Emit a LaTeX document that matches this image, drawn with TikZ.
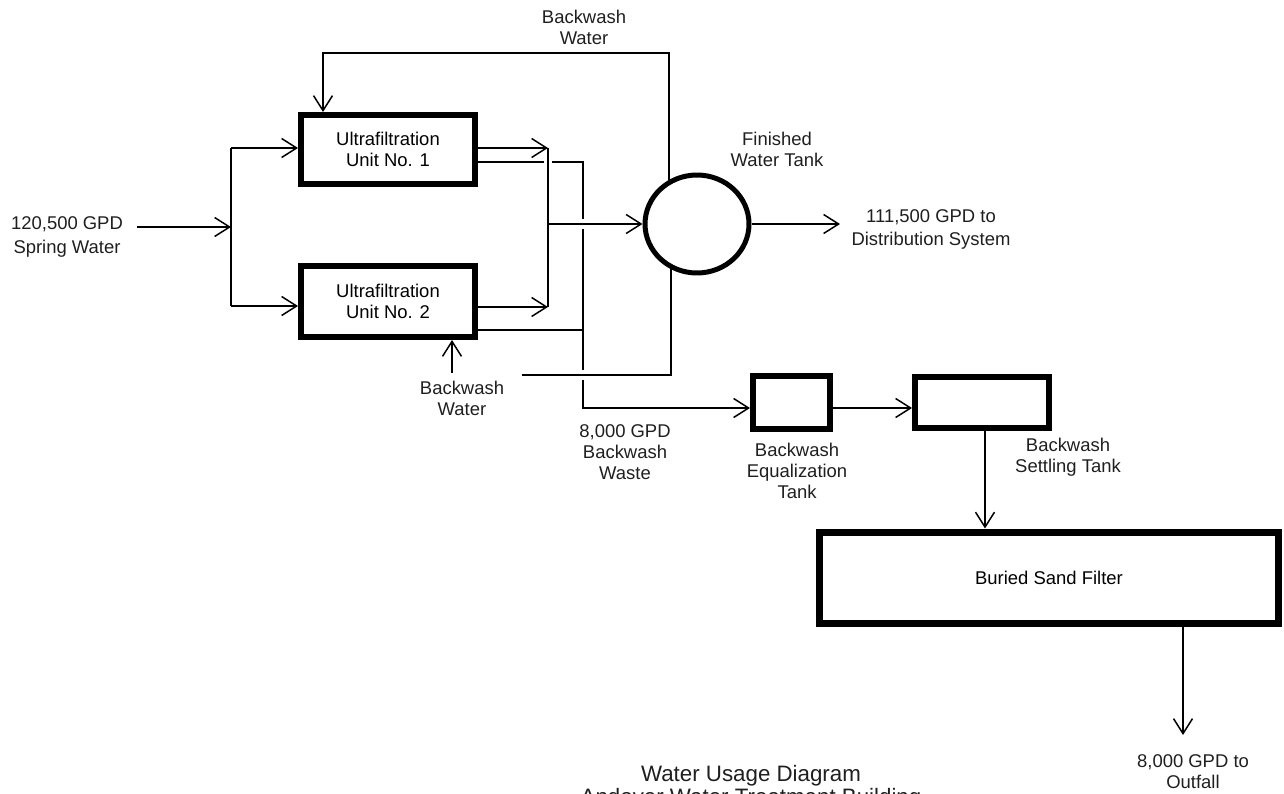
\documentclass[tikz,border=0pt]{standalone}
\usepackage{fontspec}
\setmainfont{Liberation Sans}
\usetikzlibrary{arrows.meta,shapes.geometric,calc}
\begin{document}
\begin{tikzpicture}[x=0.02cm,y=-0.02cm,
  flow/.style={line width=0.03cm,-{Straight Barb[length=0.3cm,width=0.38cm]}},
  pipe/.style={line width=0.03cm},
  unit/.style={draw,rectangle,line width=0.12cm,align=center,inner sep=0pt,font=\fontsize{10.5}{12}\selectfont},
  lbl/.style={align=center,inner sep=0pt,text=black!88,font=\fontsize{10.5}{12}\selectfont},
  ttl/.style={anchor=base,inner sep=0pt,text=black!88,font=\fontsize{12.7}{15}\selectfont},
]
\useasboundingbox (0,0) rectangle (1284,794);
% units
\node[unit,minimum width=3.48cm,minimum height=1.38cm] (uf1) at (388,149.5) {Ultrafiltration\\Unit No. 1};
\node[unit,minimum width=3.48cm,minimum height=1.42cm] (uf2) at (388,301.5) {Ultrafiltration\\Unit No. 2};
\node[draw,ellipse,line width=0.1cm,minimum width=2.08cm,minimum height=1.96cm,inner sep=0pt] (tank) at (697,224) {};
\node[unit,minimum width=1.54cm,minimum height=1.06cm] (eq) at (791.5,402.5) {};
\node[unit,minimum width=2.68cm,minimum height=1.02cm] (st) at (982,402.5) {};
\node[unit,line width=0.14cm,minimum width=9.2cm,minimum height=1.84cm] (sf) at (1049,578) {Buried Sand Filter};
% labels
\node[lbl,font=\fontsize{10.5}{13.7}\selectfont] (lfeed) at (67,237) {120,500 GPD\\Spring Water};
\node[lbl] (lbwtop) at (584,27) {Backwash\\Water};
\node[lbl] (lbwbot) at (462,398) {Backwash\\Water};
\node[lbl] (lwaste) at (625,452) {8,000 GPD\\Backwash\\Waste};
\node[lbl] (ltank) at (777,149) {Finished\\Water Tank};
\node[lbl,font=\fontsize{10.5}{13}\selectfont] (ldist) at (931,229.5) {111,500 GPD to\\Distribution System};
\node[lbl] (leq) at (797,471) {Backwash\\Equalization\\Tank};
\node[lbl] (lst) at (1068,457) {Backwash\\Settling Tank};
\node[lbl] (lout) at (1193,772) {8,000 GPD to\\Outfall};
\node[ttl] (t1) at (751,781) {Water Usage Diagram};
\node[ttl] (t2) at (751,804) {Andover Water Treatment Building};
% feed
\coordinate (feed) at (137,227);
\coordinate (split) at (231,227);
\coordinate (s1) at (231,148);
\coordinate (s2) at (231,306);
\draw[flow] (feed) -- (split);
\draw[pipe] (s1) -- (s2);
\draw[flow] (s1) -- (s1 -| uf1.west);
\draw[flow] (s2) -- (s2 -| uf2.west);
% permeate
\coordinate (p1) at (548,148);
\coordinate (p2) at (548,307);
\coordinate (p3) at (548,224);
\draw[flow] (p1 -| uf1.east) -- (p1);
\draw[flow] (p2 -| uf2.east) -- (p2);
\draw[pipe] (p1) -- (p2);
\draw[flow] (p3) -- (p3 -| tank.west);
% distribution
\coordinate (dist) at (840,224);
\draw[flow] (tank.east) -- (dist);
% waste
\coordinate (w1) at (583,162);
\coordinate (w2) at (583,408);
\coordinate (w3) at (583,330);
\coordinate (ga) at (544,162);
\coordinate (gb) at (552,162);
\coordinate (gc) at (583,219);
\coordinate (gd) at (583,229);
\coordinate (ge) at (583,370);
\coordinate (gf) at (583,380);
\draw[pipe] (w1 -| uf1.east) -- (ga);
\draw[pipe] (gb) -- (w1) -- (gc);
\draw[pipe] (gd) -- (ge);
\draw[flow] (gf) -- (w2) -- (w2 -| eq.west);
\draw[pipe] (w3 -| uf2.east) -- (w3);
% backwash supply
\coordinate (bw1) at (669,180);
\coordinate (bwc) at (323,53);
\draw[flow] (bw1) |- (bwc) -- (bwc |- uf1.north);
\coordinate (bw2) at (671,266);
\coordinate (bw3) at (522,375);
\coordinate (bw4) at (452,373);
\draw[pipe] (bw2) |- (bw3);
\draw[flow] (bw4) -- (bw4 |- uf2.south);
% waste treatment
\draw[flow] (eq.east |- w2) -- (st.west |- w2);
\coordinate (sx) at (985,0);
\draw[flow] (st.south -| sx) -- (sf.north -| sx);
\coordinate (outc) at (1183,735);
\draw[flow] (sf.south -| outc) -- (outc);
\end{tikzpicture}
\end{document}
